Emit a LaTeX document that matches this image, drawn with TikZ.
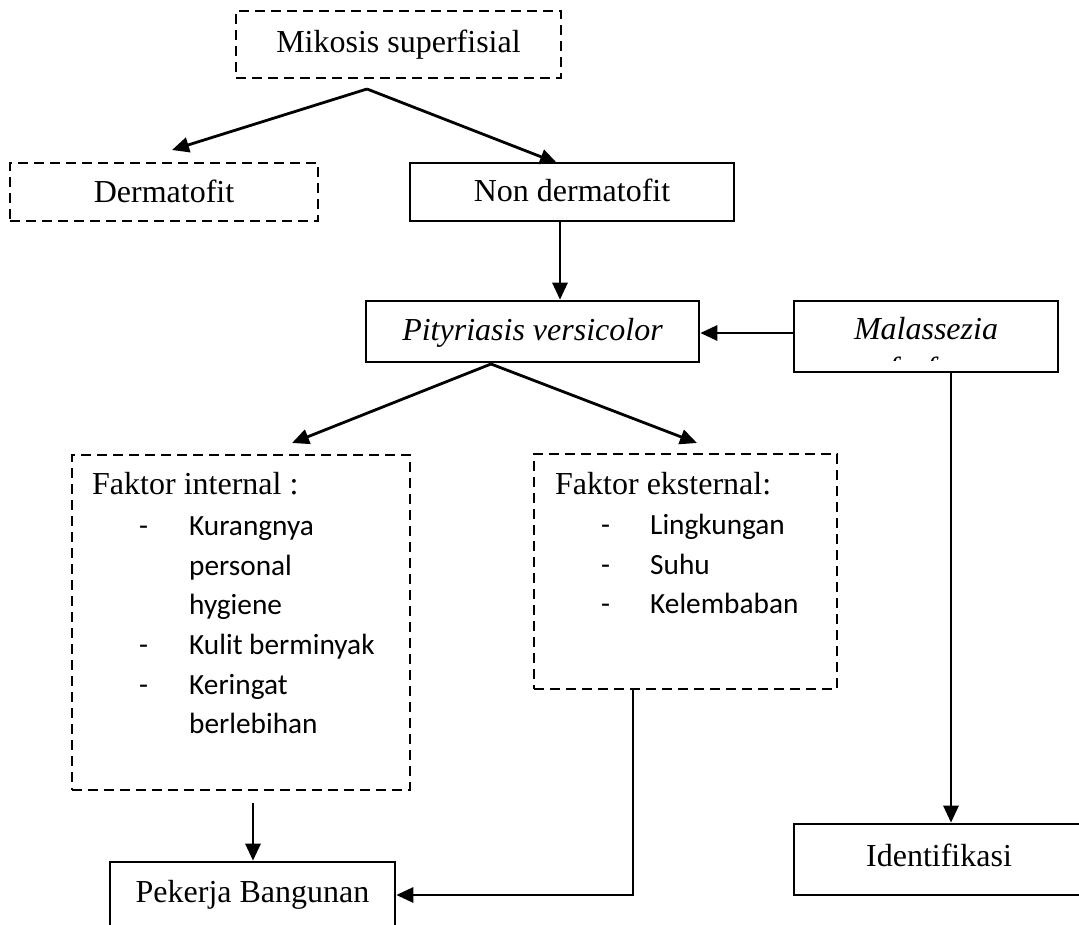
\documentclass[tikz,border=0pt]{standalone}
\usepackage{fontspec}
\setmainfont{Liberation Serif}
\newfontfamily\calibrifont{Carlito}
\usetikzlibrary{arrows.meta,calc}
\begin{document}
\begin{tikzpicture}[x=1pt,y=-1pt,
  sbox/.style={draw=black, line width=2.6pt, inner sep=0pt, rectangle},
  dbox/.style={sbox, dash pattern=on 10pt off 6pt},
  arr/.style={line width=2.8pt, -{Triangle[length=17pt,width=15pt]}},
  ttext/.style={font=\fontsize{32}{37}\selectfont, anchor=base, inner sep=0pt},
  ittext/.style={font=\fontsize{32}{37}\selectfont\itshape, anchor=base, inner sep=0pt},
  ltext/.style={font=\fontsize{32}{37}\selectfont, anchor=base west, inner sep=0pt},
  ctext/.style={font=\calibrifont\fontsize{29.3}{36}\selectfont, anchor=base west, inner sep=0pt}]
\useasboundingbox (0,0) rectangle (1079,925);
\clip (0,0) rectangle (1079,925);
\fill[white] (0,0) rectangle (1079,925);

% boxes
\node[dbox, minimum width=325pt, minimum height=67pt] (mikosis) at (398.5,44.5) {};
\node[dbox, minimum width=308pt, minimum height=58pt] (dermatofit) at (164,192) {};
\node[sbox, minimum width=324pt, minimum height=58pt] (nondermatofit) at (572,192) {};
\node[sbox, minimum width=333pt, minimum height=61pt] (pityriasis) at (532.5,331.5) {};
\node[sbox, minimum width=264pt, minimum height=71pt] (malassezia) at (926,336.5) {};
\node[dbox, minimum width=338pt, minimum height=335pt] (internal) at (241,622.5) {};
\node[dbox, minimum width=303pt, minimum height=235pt] (eksternal) at (685.5,571.5) {};
\node[sbox, minimum width=285pt, minimum height=73pt] (pekerja) at (252.5,898.5) {};
\node[sbox, minimum width=296pt, minimum height=71pt] (identifikasi) at (942,859.5) {};

% texts
\node[ttext] (t-mik) at (398.5,53) {Mikosis superfisial};
\node[ttext] (t-derm) at (164,203) {Dermatofit};
\node[ttext] (t-nd) at (572,202) {Non dermatofit};
\node[ittext] (t-pv) at (532.5,341) {Pityriasis versicolor};
\node[ittext] (t-mal) at (926,340) {Malassezia};
\begin{scope}
  \clip (796,303) rectangle (1056,360);
  \node[ittext] (t-furfur) at (926,379) {furfur};
\end{scope}
\node[ttext] (t-id) at (939,866) {Identifikasi};
\node[ttext] (t-pek) at (252.5,902) {Pekerja Bangunan};

\node[ltext] (t-fi) at (92,494) {Faktor internal :};
\node[ctext] (d-i1) at (139,535) {-};
\node[ctext] (i1) at (189,535) {Kurangnya};
\node[ctext] (i1b) at (189,575) {personal};
\node[ctext] (i1c) at (189,614) {hygiene};
\node[ctext] (d-i2) at (139,654) {-};
\node[ctext] (i2) at (189,654) {Kulit berminyak};
\node[ctext] (d-i3) at (139,694) {-};
\node[ctext] (i3) at (189,694) {Keringat};
\node[ctext] (i3b) at (189,733) {berlebihan};

\node[ltext] (t-fe) at (555,494) {Faktor eksternal:};
\node[ctext] (d-e1) at (601,534) {-};
\node[ctext] (e1) at (650,534) {Lingkungan};
\node[ctext] (d-e2) at (601,574) {-};
\node[ctext] (e2) at (650,574) {Suhu};
\node[ctext] (d-e3) at (601,613) {-};
\node[ctext] (e3) at (650,613) {Kelembaban};

% connector coordinates
\coordinate (apex1) at (367,89);
\coordinate (derm-in) at (172,150);
\coordinate (nd-in) at (557,163);
\coordinate (nd-x) at (560,0);
\coordinate (pm-y) at (0,333);
\coordinate (apex2) at (491,364);
\coordinate (int-in) at (292,443);
\coordinate (eks-in) at (697,443);
\coordinate (mi-x) at (951,0);
\coordinate (int-out) at (253,803);
\coordinate (ep-corner) at (633,895);

% connectors
\draw[arr] (apex1) -- (derm-in);
\draw[arr] (apex1) -- (nd-in);
\draw[arr] (nondermatofit.south -| nd-x) -- (pityriasis.north -| nd-x);
\draw[arr] (malassezia.west |- pm-y) -- (pityriasis.east |- pm-y);
\draw[arr] (apex2) -- (int-in);
\draw[arr] (apex2) -- (eks-in);
\draw[arr] (malassezia.south -| mi-x) -- (identifikasi.north -| mi-x);
\draw[arr] (int-out) -- (pekerja.north -| int-out);
\draw[arr] (eksternal.south -| ep-corner) -- (ep-corner) -- (pekerja.east |- ep-corner);
\end{tikzpicture}
\end{document}
